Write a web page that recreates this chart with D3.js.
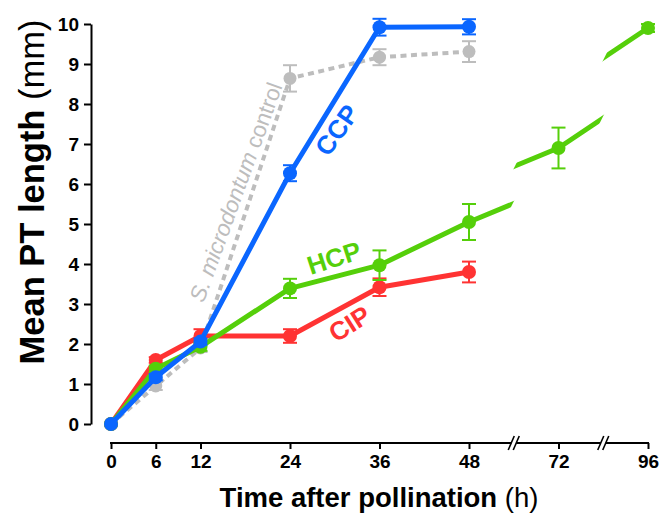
<!DOCTYPE html>
<html>
<head>
<meta charset="utf-8">
<script src="https://cdn.jsdelivr.net/npm/d3@7"></script>
<style>
  body { margin: 0; background: #fff; }
  svg { display: block; font-family: "Liberation Sans", Arial, Helvetica, sans-serif; }
</style>
</head>
<body>
<svg id="chart" width="660" height="516"></svg>
<script>
// Pollen tube growth over time
const hours = [0, 6, 12, 24, 36, 48];
const hcpHours = [0, 6, 12, 24, 36, 48, 72, 96];

const ctrlMean = [0, 0.95, 1.9, 8.64, 9.17, 9.31];
const ctrlErr  = [0, 0.1, 0.1, 0.33, 0.2, 0.26];
const ccpMean  = [0, 1.17, 2.06, 6.27, 9.92, 9.93];
const ccpErr   = [0, 0.08, 0.08, 0.2, 0.21, 0.19];
const cipMean  = [0, 1.6, 2.2, 2.2, 3.42, 3.8];
const cipErr   = [0, 0.07, 0.17, 0.17, 0.22, 0.26];
const hcpMean  = [0, 1.38, 1.93, 3.39, 3.97, 5.05, 6.9, 9.9];
const hcpErr   = [0, 0.08, 0.1, 0.24, 0.37, 0.45, 0.51, 0.1];

const xTicks = [0, 6, 12, 24, 36, 48, 72, 96];
const yTicks = [0, 1, 2, 3, 4, 5, 6, 7, 8, 9, 10];
// broken x axis: visible windows of hours
const segDomains = [[0, 54], [66, 78], [90, 96]];

const colors = { ctrl: "#bdbdbd", ccp: "#0a66ff", cip: "#ff3333", hcp: "#55cf0a" };

const svg = d3.select("#chart");
const plotLeft = 111, plotRight = 648, plotTop = 24, plotBottom = 424, axisY = 443;

const y = d3.scaleLinear().domain([0, 10]).range([plotBottom, plotTop]);

// one linear scale per axis window, laid out side by side
const totalSpan = d3.sum(segDomains, d => d[1] - d[0]);
const pxPerHour = (plotRight - plotLeft) / totalSpan;
let cursor = plotLeft;
const segScales = segDomains.map(d => {
    const w = (d[1] - d[0]) * pxPerHour;
    const s = d3.scaleLinear().domain(d).range([cursor, cursor + w]);
    cursor += w;
    return s;
});
const scaleFor = h => segScales.find(s => h >= s.domain()[0] && h <= s.domain()[1]);
const x = h => scaleFor(h)(h);

// ---- y axis
const yAxis = svg.append("g")
    .attr("transform", `translate(91,0)`)
    .call(d3.axisLeft(y).tickValues(yTicks).tickSize(7).tickSizeOuter(0).tickPadding(5));
yAxis.select(".domain").attr("stroke-width", 2);
yAxis.selectAll(".tick line").attr("stroke-width", 2);
yAxis.selectAll(".tick text").attr("font-size", 19).attr("font-weight", "bold").attr("font-family", "inherit");

// ---- x axis (per window)
segScales.forEach((s, i) => {
    const [d0, d1] = s.domain();
    const g = svg.append("g")
        .attr("transform", `translate(0,${axisY})`)
        .call(d3.axisBottom(s).tickValues(xTicks.filter(t => t >= d0 && t <= d1))
            .tickFormat(d3.format("d"))
            .tickSize(6).tickSizeOuter(0).tickPadding(6));
    g.select(".domain").remove();
    g.selectAll(".tick line").attr("stroke-width", 2);
    g.selectAll(".tick text").attr("font-size", 19).attr("font-weight", "bold").attr("font-family", "inherit");
    const [r0, r1] = s.range();
    const gap = 2.5;
    svg.append("line")
        .attr("x1", i === 0 ? r0 - 1 : r0 + gap)
        .attr("x2", i === segScales.length - 1 ? r1 + 1 : r1 - gap)
        .attr("y1", axisY).attr("y2", axisY)
        .attr("stroke", "#000").attr("stroke-width", 2);
    if (i < segScales.length - 1) {
        [-gap, gap].forEach(o => {
            svg.append("line")
                .attr("x1", r1 + o - 3).attr("y1", axisY + 7)
                .attr("x2", r1 + o + 3).attr("y2", axisY - 7)
                .attr("stroke", "#000").attr("stroke-width", 1.6);
        });
    }
});

// ---- axis titles
svg.append("text")
    .attr("transform", "translate(44,192) rotate(-90)")
    .attr("text-anchor", "middle")
    .attr("font-size", 34.5)
    .call(t => {
        t.append("tspan").attr("font-weight", "bold").text("Mean PT length");
        t.append("tspan").text(" (mm)");
    });

svg.append("text")
    .attr("x", 379).attr("y", 507)
    .attr("text-anchor", "middle")
    .attr("font-size", 27.5)
    .call(t => {
        t.append("tspan").attr("font-weight", "bold").text("Time after pollination");
        t.append("tspan").text(" (h)");
    });

// ---- series
function drawSeries(hs, means, errs, color, opts = {}) {
    const pts = hs.map((h, i) => ({ h, v: means[i], e: errs[i] }));
    const g = svg.append("g");
    const sw = opts.width || 5;

    if (opts.broken) {
        // value along the series at a given hour
        const valueAt = h => {
            const j = pts.findIndex(p => p.h >= h);
            const a = pts[j - 1], b = pts[j];
            return a.v + (b.v - a.v) * (h - a.h) / (b.h - a.h);
        };
        const slant = 0.5;
        segScales.forEach((s, i) => {
            const [d0, d1] = s.domain();
            const [r0, r1] = s.range();
            const edge = (xb, yb) => yy => xb + (yb - yy) * slant;
            const le = i === 0 ? () => 0 : edge(r0 + 1, y(valueAt(d0)));
            const re = i === segScales.length - 1 ? () => 660 : edge(r1 - 1, y(valueAt(d1)));
            const id = `clip-seg-${i}`;
            svg.append("clipPath").attr("id", id)
                .append("polygon")
                .attr("points", [[le(0), 0], [re(0), 0], [re(516), 516], [le(516), 516]].join(" "));
            g.append("path")
                .datum(pts)
                .attr("clip-path", `url(#${id})`)
                .attr("fill", "none")
                .attr("stroke", color)
                .attr("stroke-width", sw)
                .attr("stroke-linejoin", "round")
                .attr("d", d3.line().x(p => s(p.h)).y(p => y(p.v)));
        });
    } else {
        g.append("path")
            .datum(pts)
            .attr("fill", "none")
            .attr("stroke", color)
            .attr("stroke-width", sw)
            .attr("stroke-linejoin", "round")
            .attr("stroke-dasharray", opts.dash || null)
            .attr("d", d3.line().x(p => x(p.h)).y(p => y(p.v)));
    }

    const eb = g.selectAll(".eb").data(pts.filter(p => p.e > 0)).join("g");
    eb.append("line")
        .attr("x1", p => x(p.h)).attr("x2", p => x(p.h))
        .attr("y1", p => y(p.v - p.e)).attr("y2", p => y(p.v + p.e))
        .attr("stroke", color).attr("stroke-width", 2);
    [-1, 1].forEach(sgn => {
        eb.append("line")
            .attr("x1", p => x(p.h) - 7).attr("x2", p => x(p.h) + 7)
            .attr("y1", p => y(p.v + sgn * p.e)).attr("y2", p => y(p.v + sgn * p.e))
            .attr("stroke", color).attr("stroke-width", 2);
    });

    g.selectAll("circle").data(pts).join("circle")
        .attr("cx", p => x(p.h)).attr("cy", p => y(p.v))
        .attr("r", opts.r || 7)
        .attr("fill", color);
}

drawSeries(hours, ctrlMean, ctrlErr, colors.ctrl, { dash: "6,4.5", width: 4, r: 6.5 });
drawSeries(hours, cipMean, cipErr, colors.cip);
drawSeries(hcpHours, hcpMean, hcpErr, colors.hcp, { broken: true });
drawSeries(hours, ccpMean, ccpErr, colors.ccp);

// ---- series labels
function label(txt, h, v, angle, color) {
    return svg.append("text")
        .attr("transform", `translate(${x(h)},${y(v)}) rotate(${angle})`)
        .attr("text-anchor", "middle")
        .attr("dominant-baseline", "central")
        .attr("font-size", 26)
        .attr("font-weight", "bold")
        .attr("fill", color)
        .text(txt);
}
label("CCP", 30.3, 7.35, -55, colors.ccp);
label("HCP", 29.9, 4.15, -18, colors.hcp);
label("CIP", 32, 2.5, -32, colors.cip);

svg.append("text")
    .attr("transform", `translate(${x(16.7)},${y(5.8)}) rotate(-70)`)
    .attr("text-anchor", "middle")
    .attr("dominant-baseline", "central")
    .attr("font-size", 22.5)
    .attr("fill", colors.ctrl)
    .call(t => {
        t.append("tspan").attr("font-style", "italic").text("S. microdontum");
        t.append("tspan").text(" control");
    });
</script>
</body>
</html>
